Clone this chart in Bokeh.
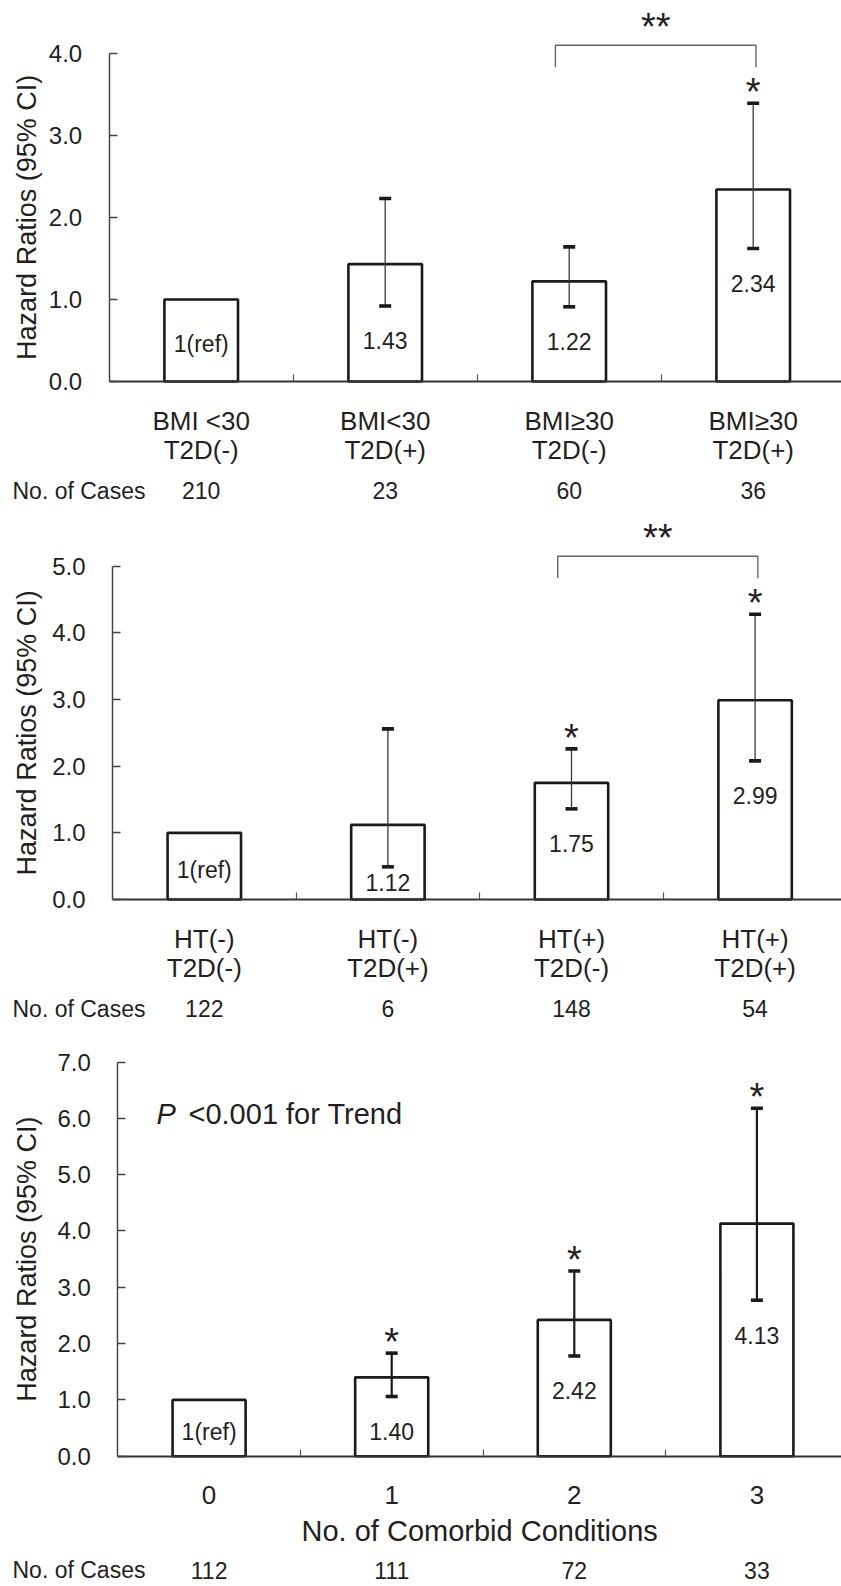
from math import pi
from bokeh.plotting import figure
from bokeh.models import Range1d, FixedTicker, LinearAxis, PrintfTickFormatter
from bokeh.layouts import column
from bokeh.embed import file_html
from bokeh.resources import INLINE
from bokeh.core.properties import value

FONT = "Liberation Sans"
INK = "#231f20"
W = 841

# ---------------- data ----------------
# Panel A: BMI x T2D
a_line1 = ["BMI <30", "BMI<30", "BMI\u226530", "BMI\u226530"]
a_line2 = ["T2D(-)", "T2D(+)", "T2D(-)", "T2D(+)"]
a_hr = [1.0, 1.43, 1.22, 2.34]
a_lo = [None, 0.92, 0.91, 1.62]
a_hi = [None, 2.23, 1.64, 3.39]
a_text = ["1(ref)", "1.43", "1.22", "2.34"]
a_sig = [False, False, False, True]
a_cases = ["210", "23", "60", "36"]
a_yticks = [0, 1, 2, 3, 4]
a_pair = (2, 3)

# Panel B: HT x T2D
b_line1 = ["HT(-)", "HT(-)", "HT(+)", "HT(+)"]
b_line2 = ["T2D(-)", "T2D(+)", "T2D(-)", "T2D(+)"]
b_hr = [1.0, 1.12, 1.75, 2.99]
b_lo = [None, 0.49, 1.36, 2.08]
b_hi = [None, 2.56, 2.26, 4.28]
b_text = ["1(ref)", "1.12", "1.75", "2.99"]
b_sig = [False, False, True, True]
b_cases = ["122", "6", "148", "54"]
b_yticks = [0, 1, 2, 3, 4, 5]
b_pair = (2, 3)

# Panel C: number of comorbid conditions
c_cats = ["0", "1", "2", "3"]
c_hr = [1.0, 1.40, 2.42, 4.13]
c_lo = [None, 1.06, 1.78, 2.77]
c_hi = [None, 1.83, 3.29, 6.18]
c_text = ["1(ref)", "1.40", "2.42", "4.13"]
c_sig = [False, True, True, True]
c_cases = ["112", "111", "72", "33"]
c_yticks = [0, 1, 2, 3, 4, 5, 6, 7]
c_xlabel = "No. of Comorbid Conditions"
c_note_p = "P"
c_note_rest = "<0.001 for Trend"

cases_title = "No. of Cases"
y_title = "Hazard Ratios (95% CI)"


def txt(p, x, y, t, size, align="center", baseline="middle", **kw):
    p.text(x=x, y=y, text=t, text_align=align, text_baseline=baseline,
           text_font=value(FONT), text_font_size=size, text_color=INK, **kw)


def panel(hr, lo, hi, texts, sig, cases, rows, yticks, pair, lay):
    n = len(hr)
    xs = [i + 0.5 for i in range(n)]
    ymax = yticks[-1]
    scale = (lay["zero"] - lay["tick_top"]) / ymax        # px per unit
    ax = lay["axis_x"]
    sp = lay["spacing"]
    top = lay["top"]
    H = lay["height"]
    y0 = (lay["zero"] - (top + H)) / scale
    y1 = (lay["zero"] - top) / scale
    x0 = -ax / sp
    x1 = (W - ax) / sp

    def py(v):
        return v / scale

    def dx(v):
        return v / sp

    p = figure(width=W, height=H, x_range=Range1d(x0, x1), y_range=Range1d(y0, y1),
               x_axis_location=None, y_axis_location=None,
               output_backend="svg", toolbar_location=None, min_border=0)
    p.outline_line_color = None
    p.grid.visible = False

    yax = LinearAxis(fixed_location=0, ticker=FixedTicker(ticks=yticks),
                     formatter=PrintfTickFormatter(format="%.1f"),
                     bounds=(0, ymax))
    yax.major_tick_in = 8
    yax.major_tick_out = 0
    yax.minor_tick_line_color = None
    yax.major_label_standoff = 27
    yax.axis_line_color = "#444444"
    yax.axis_line_width = 1.5
    yax.major_tick_line_color = "#444444"
    yax.major_tick_line_width = 1.5
    yax.major_label_text_font = FONT
    yax.major_label_text_font_size = "24px"
    yax.major_label_text_color = INK
    p.add_layout(yax, "left")

    xax = LinearAxis(fixed_location=0, ticker=FixedTicker(ticks=[1, 2, 3]),
                     bounds=(0, x1))
    xax.major_label_overrides = {1: "", 2: "", 3: ""}
    xax.major_tick_in = 7
    xax.major_tick_out = 0
    xax.minor_tick_line_color = None
    xax.axis_line_color = "#333333"
    xax.axis_line_width = 2
    xax.major_tick_line_color = "#555555"
    xax.major_tick_line_width = 1.2
    p.add_layout(xax, "below")

    # bars
    p.vbar(x=xs, top=hr, bottom=0, width=0.4, fill_color="white",
           line_color="#1a1a1a", line_width=2.6)

    # error bars
    ei = [i for i in range(n) if lo[i] is not None]
    ex = [xs[i] for i in ei]
    p.segment(x0=ex, y0=[lo[i] for i in ei], x1=ex, y1=[hi[i] for i in ei],
              line_color=lay["eb_color"], line_width=lay["eb_w"])
    p.scatter(x=ex + ex, y=[hi[i] for i in ei] + [lo[i] for i in ei],
              marker="dash", size=12, line_width=3.6, line_color="#1a1a1a")

    # value labels inside bars
    ly = []
    for i in range(n):
        if lo[i] is None:
            ly.append(py(hr[i] * scale / 2 - 4))
        else:
            ly.append(py(max(lo[i] * scale - 35, 17)))
    txt(p, xs, ly, texts, "23px")

    # significance stars
    si = [i for i in range(n) if sig[i]]
    txt(p, [xs[i] for i in si], [hi[i] for i in si], ["*"] * len(si), "38px",
        baseline="alphabetic", y_offset=-11)

    # comparison bracket
    if pair is not None:
        a, b = pair
        yb = max(hi[a], hi[b]) + py(36)
        yt = yb + py(22)
        xl = xs[a] - 0.075
        xr = xs[b] + 0.015
        p.line(x=[xl, xl, xr, xr], y=[yb, yt, yt, yb], line_color="#666666",
               line_width=1.4)
        txt(p, [(xl + xr) / 2], [yt], ["**"], "38px", baseline="alphabetic",
            y_offset=-18)

    # category rows below the axis
    for t, off in rows:
        txt(p, xs, [-py(off)] * n, t, "26px")
    # cases row
    txt(p, xs, [-py(lay["cases_off"])] * n, cases, "23px")
    txt(p, [dx(12 - ax)], [-py(lay["cases_off"])], [cases_title], "23px",
        align="left")
    # y title
    txt(p, [dx(26 - ax)], [ymax / 2], [y_title], "27px", angle=pi / 2)
    return p, py, dx, ax, x1


lay_a = dict(top=0, height=510, zero=381, tick_top=52.7, axis_x=108.7,
             spacing=184, eb_w=1.3, eb_color="#3a3a3a", cases_off=109)
lay_b = dict(top=510, height=538, zero=899, tick_top=565.7, axis_x=112,
             spacing=183.6, eb_w=1.3, eb_color="#3a3a3a", cases_off=109)
lay_c = dict(top=1048, height=538, zero=1455.7, tick_top=1061.5, axis_x=117.3,
             spacing=182.6, eb_w=2.2, eb_color="#1a1a1a", cases_off=114)

p1, _, _, _, _ = panel(a_hr, a_lo, a_hi, a_text, a_sig, a_cases,
                       [(a_line1, 39), (a_line2, 68)], a_yticks, a_pair, lay_a)
p2, _, _, _, _ = panel(b_hr, b_lo, b_hi, b_text, b_sig, b_cases,
                       [(b_line1, 39), (b_line2, 68)], b_yticks, b_pair, lay_b)
p3, py3, dx3, ax3, xe3 = panel(c_hr, c_lo, c_hi, c_text, c_sig, c_cases,
                               [(c_cats, 39)], c_yticks, None, lay_c)

txt(p3, [xe3 / 2], [-py3(75)], [c_xlabel], "29px")
txt(p3, [dx3(156 - ax3)], [6.08], [c_note_p], "29px", align="left",
    text_font_style="italic")
txt(p3, [dx3(188 - ax3)], [6.08], [c_note_rest], "29px", align="left")

layout = column(p1, p2, p3, spacing=0)
open("out.html", "w").write(file_html(layout, INLINE))
